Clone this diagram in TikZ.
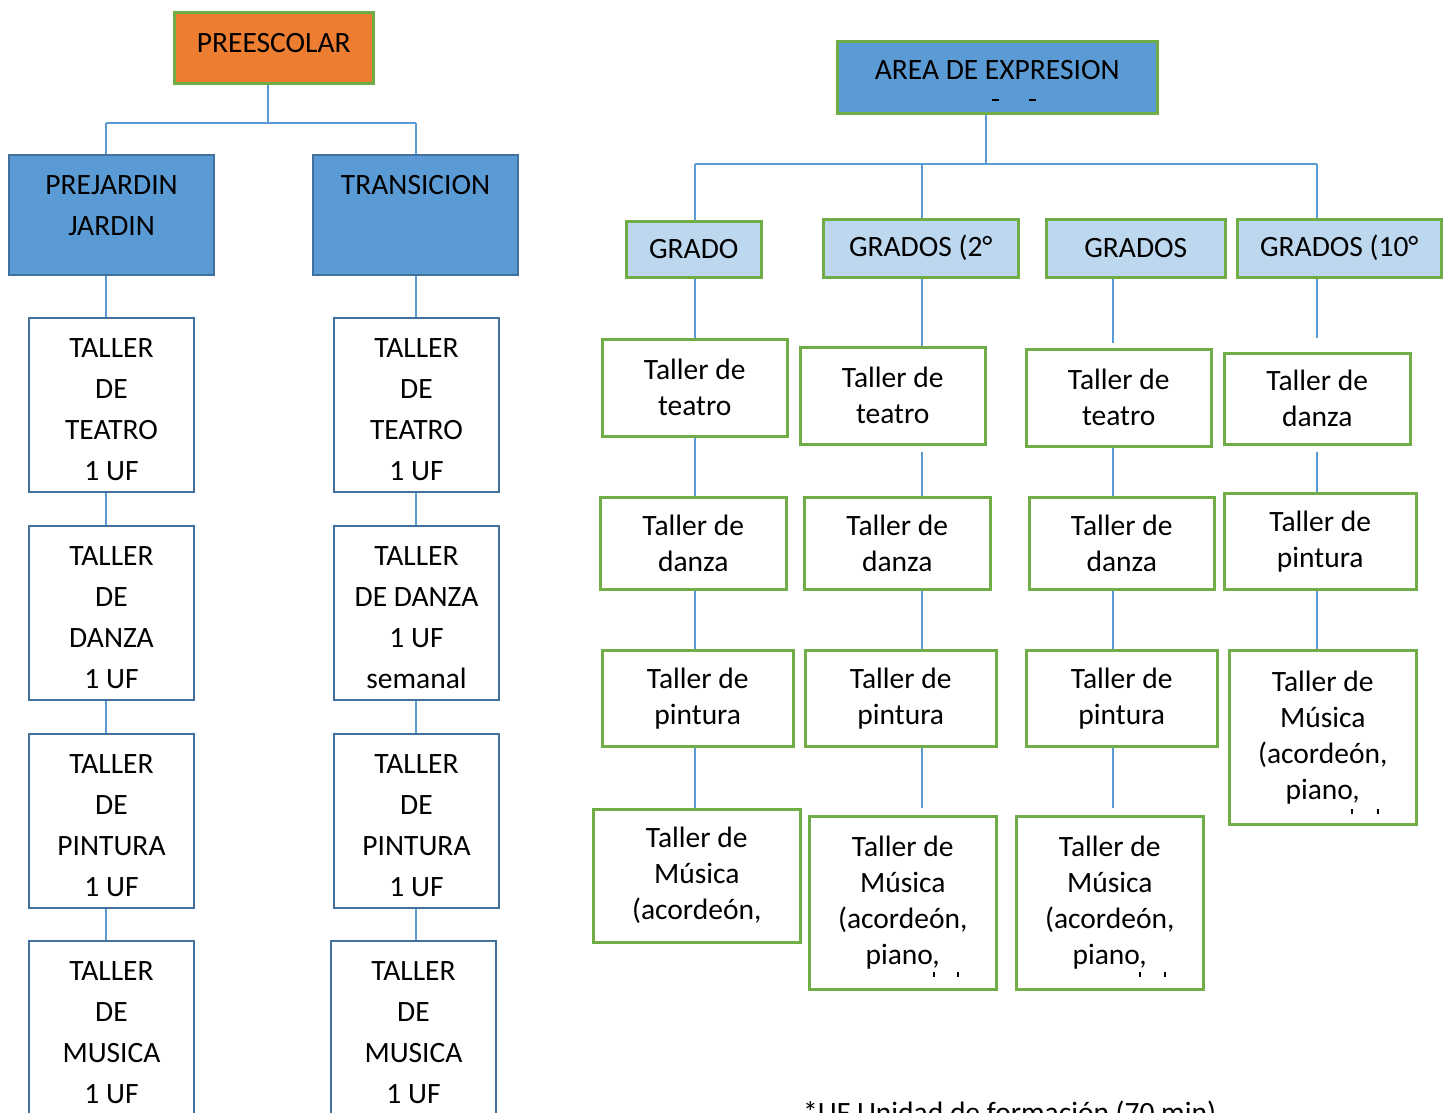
\documentclass[tikz,border=0pt]{standalone}
\usepackage{fontspec}
\setmainfont{Carlito}
\usetikzlibrary{positioning}
\definecolor{orangefill}{HTML}{ED7D31}
\definecolor{greenline}{HTML}{70AD47}
\definecolor{bluefill}{HTML}{5B9BD5}
\definecolor{blueline}{HTML}{41719C}
\definecolor{lightblue}{HTML}{BDD7EE}
\tikzset{
  sbox/.style      = {rectangle, draw, align=center, inner sep=2pt,
                      anchor=north west, text=black},
  capsfont/.style  = {font=\fontsize{29.5}{41}\selectfont},
  smallfont/.style = {font=\fontsize{29.5}{36}\selectfont},
  topbox/.style    = {sbox, capsfont, fill=orangefill, draw=greenline,
                      line width=2.5pt},
  levelbox/.style  = {sbox, capsfont, fill=bluefill, draw=blueline,
                      line width=2.2pt, minimum width=205pt, minimum height=120pt},
  tallerbox/.style = {sbox, capsfont, fill=white, draw=blueline,
                      line width=2pt, minimum width=165pt, minimum height=174pt},
  areabox/.style   = {sbox, capsfont, fill=bluefill, draw=greenline,
                      line width=2.5pt},
  gradobox/.style  = {sbox, capsfont, fill=lightblue, draw=greenline,
                      line width=2.5pt},
  greenbox/.style  = {sbox, smallfont, fill=white, draw=greenline,
                      line width=2.5pt},
  link/.style      = {draw=bluefill, line width=1.3pt},
  frag/.style      = {black, line width=1.2pt},
}

\begin{document}
\begin{tikzpicture}[x=1pt, y=-1pt]
  \useasboundingbox (0,0) rectangle (1446,1112);

  % preescolar
  \node[topbox, minimum width=199pt, minimum height=71pt] (pre) at (173,11) {PREESCOLAR\\[-31pt]~};
  \node[levelbox] (pj) at (8,154)   {PREJARDIN\\JARDIN\\[-21pt]~};
  \node[levelbox] (tr) at (312,154) {TRANSICION\\[20pt]~};

  \node[tallerbox] (lt1) at (28,317) {~\\[-12pt]TALLER\\DE\\TEATRO\\1 UF};
  \node[tallerbox] (lt2) at (28,525) {~\\[-12pt]TALLER\\DE\\DANZA\\1 UF};
  \node[tallerbox] (lt3) at (28,733) {~\\[-12pt]TALLER\\DE\\PINTURA\\1 UF};
  \node[tallerbox] (lt4) at (28,940) {~\\[-12pt]TALLER\\DE\\MUSICA\\1 UF};

  \node[tallerbox] (rt1) at (333,317) {~\\[-12pt]TALLER\\DE\\TEATRO\\1 UF};
  \node[tallerbox] (rt2) at (333,525) {~\\[-12pt]TALLER\\DE DANZA\\1 UF\\semanal};
  \node[tallerbox] (rt3) at (333,733) {~\\[-12pt]TALLER\\DE\\PINTURA\\1 UF};
  \node[tallerbox] (rt4) at (330,940) {~\\[-12pt]TALLER\\DE\\MUSICA\\1 UF};

  \coordinate (pbus) at (268,123);
  \coordinate (kl) at (106,0);
  \coordinate (kr) at (416,0);
  \draw[link] (pre.south -| pbus) -- (pbus);
  \draw[link] (pbus -| kl) -- (pbus -| kr);
  \draw[link] (pbus -| kl) -- (pj.north -| kl);
  \draw[link] (pbus -| kr) -- (tr.north -| kr);

  \draw[link] (pj.south -| kl)  -- (lt1.north -| kl);
  \draw[link] (lt1.south -| kl) -- (lt2.north -| kl);
  \draw[link] (lt2.south -| kl) -- (lt3.north -| kl);
  \draw[link] (lt3.south -| kl) -- (lt4.north -| kl);
  \draw[link] (tr.south -| kr)  -- (rt1.north -| kr);
  \draw[link] (rt1.south -| kr) -- (rt2.north -| kr);
  \draw[link] (rt2.south -| kr) -- (rt3.north -| kr);
  \draw[link] (rt3.south -| kr) -- (rt4.north -| kr);

  % area de expresion
  \node[areabox, minimum width=320pt, minimum height=72pt] (area) at (836,40) {AREA DE EXPRESION\\[-27pt]~};
  \draw[frag] (992,100) -- (999,100);
  \draw[frag] (1029,100) -- (1036,100);

  \node[gradobox, minimum width=135pt, minimum height=56pt] (g1) at (625,220)  {GRADO};
  \node[gradobox, minimum width=195pt, minimum height=58pt] (g2) at (822,218)  {GRADOS (2°};
  \node[gradobox, minimum width=179pt, minimum height=58pt] (g3) at (1045,218) {GRADOS};
  \node[gradobox, minimum width=204pt, minimum height=58pt] (g4) at (1236,218) {GRADOS (10°};

  \node[greenbox, minimum width=185pt, minimum height=97pt]  (a1) at (601,338) {Taller de\\teatro};
  \node[greenbox, minimum width=186pt, minimum height=92pt]  (a2) at (599,496) {Taller de\\danza};
  \node[greenbox, minimum width=191pt, minimum height=96pt]  (a3) at (601,649) {Taller de\\pintura};
  \node[greenbox, minimum width=207pt, minimum height=133pt] (a4) at (592,808) {Taller de\\Música\\(acordeón,};

  \node[greenbox, minimum width=185pt, minimum height=97pt]  (b1) at (799,346) {Taller de\\teatro};
  \node[greenbox, minimum width=186pt, minimum height=92pt]  (b2) at (803,496) {Taller de\\danza};
  \node[greenbox, minimum width=191pt, minimum height=96pt]  (b3) at (804,649) {Taller de\\pintura};
  \node[greenbox, minimum width=187pt, minimum height=173pt] (b4) at (808,815) {Taller de\\Música\\(acordeón,\\piano,};

  \node[greenbox, minimum width=185pt, minimum height=97pt]  (c1) at (1025,348) {Taller de\\teatro};
  \node[greenbox, minimum width=185pt, minimum height=92pt]  (c2) at (1028,496) {Taller de\\danza};
  \node[greenbox, minimum width=191pt, minimum height=96pt]  (c3) at (1025,649) {Taller de\\pintura};
  \node[greenbox, minimum width=187pt, minimum height=173pt] (c4) at (1015,815) {Taller de\\Música\\(acordeón,\\piano,};

  \node[greenbox, minimum width=186pt, minimum height=91pt]  (d1) at (1223,352) {Taller de\\danza};
  \node[greenbox, minimum width=192pt, minimum height=96pt]  (d2) at (1223,492) {Taller de\\pintura};
  \node[greenbox, minimum width=187pt, minimum height=174pt] (d3) at (1228,649) {Taller de\\Música\\(acordeón,\\piano,};

  % cut-off line ends
  \draw[frag] (934,972) -- (934,977);
  \draw[frag] (958,972) -- (958,977);
  \draw[frag] (1140,972) -- (1140,977);
  \draw[frag] (1165,972) -- (1165,977);
  \draw[frag] (1352,809) -- (1352,814);
  \draw[frag] (1378,809) -- (1378,814);

  \coordinate (abus) at (986,164);
  \coordinate (k1) at (695,0);
  \coordinate (k2) at (922,0);
  \coordinate (k3) at (1113,0);
  \coordinate (k4) at (1317,0);
  \draw[link] (area.south -| abus) -- (abus);
  \draw[link] (abus -| k1) -- (abus -| k4);
  \draw[link] (abus -| k1) -- (g1.north -| k1);
  \draw[link] (abus -| k2) -- (g2.north -| k2);
  \draw[link] (abus -| k4) -- (g4.north -| k4);

  \draw[link] (g1.south -| k1) -- (a1.north -| k1);
  \draw[link] (a1.south -| k1) -- (a2.north -| k1);
  \draw[link] (a2.south -| k1) -- (a3.north -| k1);
  \draw[link] (a3.south -| k1) -- (a4.north -| k1);

  \draw[link] (g2.south -| k2) -- (b1.north -| k2);
  \draw[link, shorten <=6pt] (b1.south -| k2) -- (b2.north -| k2);
  \draw[link] (b2.south -| k2) -- (b3.north -| k2);
  \draw[link, shorten >=7pt] (b3.south -| k2) -- (b4.north -| k2);

  \draw[link, shorten >=5pt] (g3.south -| k3) -- (c1.north -| k3);
  \draw[link] (c1.south -| k3) -- (c2.north -| k3);
  \draw[link] (c2.south -| k3) -- (c3.north -| k3);
  \draw[link, shorten >=7pt] (c3.south -| k3) -- (c4.north -| k3);

  \draw[link, shorten >=14pt] (g4.south -| k4) -- (d1.north -| k4);
  \draw[link, shorten <=6pt] (d1.south -| k4) -- (d2.north -| k4);
  \draw[link] (d2.south -| k4) -- (d3.north -| k4);

  % footnote
  \node[anchor=base west, capsfont, inner sep=0pt] (note) at (803,1122)
    {*UF Unidad de formación (70 min)};
\end{tikzpicture}
\end{document}
